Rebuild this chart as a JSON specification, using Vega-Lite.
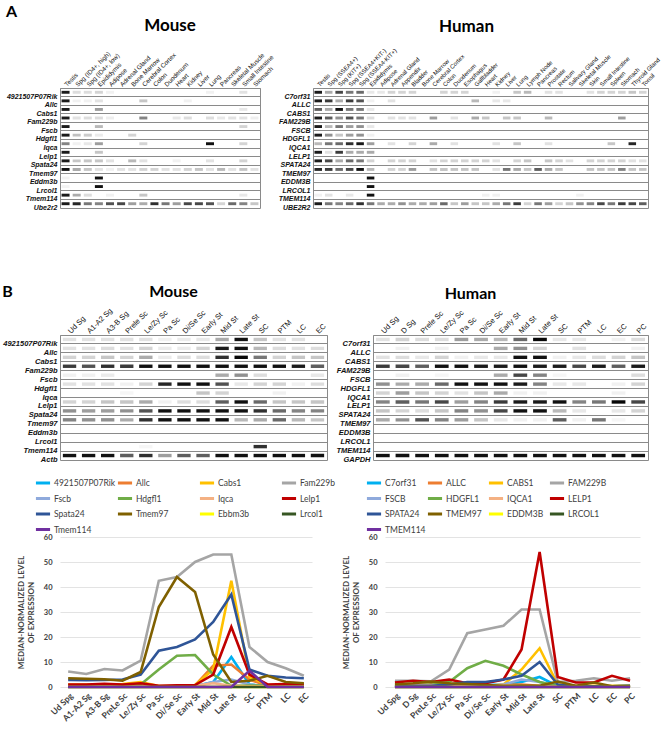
{
"$schema":"https://vega.github.io/schema/vega-lite/v6.json",
"background":"white",
"padding":{"left":2,"top":3,"right":0,"bottom":0},
"config":{"view":{"stroke":null},"font":"Liberation Sans"},
"datasets":{
"mA":[
{"r":"4921507P07Rik","c":"Testis","v":0.9},{"r":"4921507P07Rik","c":"Spg (ID4+, high)","v":0.12},{"r":"4921507P07Rik","c":"Spg (ID4+, low)","v":0.12},{"r":"4921507P07Rik","c":"Epididymis","v":0.15},{"r":"4921507P07Rik","c":"Adipose","v":0.05},{"r":"4921507P07Rik","c":"Lung","v":0.05},{"r":"4921507P07Rik","c":"Small Intestine","v":0.1},
{"r":"Allc","c":"Testis","v":0.9},{"r":"Allc","c":"Spg (ID4+, high)","v":0.05},{"r":"Allc","c":"Spg (ID4+, low)","v":0.05},{"r":"Allc","c":"Epididymis","v":0.1},{"r":"Allc","c":"Cerebral Cortex","v":0.2},{"r":"Allc","c":"Kidney","v":0.05},
{"r":"Cabs1","c":"Testis","v":0.9},{"r":"Cabs1","c":"Epididymis","v":0.35},{"r":"Cabs1","c":"Small Intestine","v":0.08},
{"r":"Fam229b","c":"Testis","v":0.9},{"r":"Fam229b","c":"Spg (ID4+, high)","v":0.1},{"r":"Fam229b","c":"Spg (ID4+, low)","v":0.12},{"r":"Fam229b","c":"Epididymis","v":0.12},{"r":"Fam229b","c":"Adipose","v":0.06},{"r":"Fam229b","c":"Cerebral Cortex","v":0.45},{"r":"Fam229b","c":"Heart","v":0.08},{"r":"Fam229b","c":"Kidney","v":0.12},{"r":"Fam229b","c":"Lung","v":0.12},{"r":"Fam229b","c":"Pancreas","v":0.08},{"r":"Fam229b","c":"Skeletal Muscle","v":0.1},{"r":"Fam229b","c":"Small Intestine","v":0.1},{"r":"Fam229b","c":"Stomach","v":0.06},
{"r":"Fscb","c":"Testis","v":0.9},{"r":"Fscb","c":"Epididymis","v":0.25},{"r":"Fscb","c":"Small Intestine","v":0.15},
{"r":"Hdgfl1","c":"Testis","v":0.9},{"r":"Hdgfl1","c":"Spg (ID4+, high)","v":0.22},{"r":"Hdgfl1","c":"Spg (ID4+, low)","v":0.18},{"r":"Hdgfl1","c":"Epididymis","v":0.07},{"r":"Hdgfl1","c":"Bone Marrow","v":0.15},
{"r":"Iqca","c":"Testis","v":0.45},{"r":"Iqca","c":"Spg (ID4+, high)","v":0.05},{"r":"Iqca","c":"Spg (ID4+, low)","v":0.08},{"r":"Iqca","c":"Epididymis","v":0.35},{"r":"Iqca","c":"Cerebral Cortex","v":0.15},{"r":"Iqca","c":"Lung","v":0.95},{"r":"Iqca","c":"Small Intestine","v":0.15},
{"r":"Lelp1","c":"Testis","v":0.9},{"r":"Lelp1","c":"Epididymis","v":0.2},
{"r":"Spata24","c":"Testis","v":0.9},{"r":"Spata24","c":"Spg (ID4+, high)","v":0.2},{"r":"Spata24","c":"Spg (ID4+, low)","v":0.2},{"r":"Spata24","c":"Epididymis","v":0.2},{"r":"Spata24","c":"Adipose","v":0.1},{"r":"Spata24","c":"Bone Marrow","v":0.25},{"r":"Spata24","c":"Cerebral Cortex","v":0.1},{"r":"Spata24","c":"Heart","v":0.05},{"r":"Spata24","c":"Lung","v":0.1},{"r":"Spata24","c":"Small Intestine","v":0.15},
{"r":"Tmem97","c":"Testis","v":0.95},{"r":"Tmem97","c":"Spg (ID4+, high)","v":0.3},{"r":"Tmem97","c":"Spg (ID4+, low)","v":0.2},{"r":"Tmem97","c":"Epididymis","v":0.1},{"r":"Tmem97","c":"Adipose","v":0.05},{"r":"Tmem97","c":"Adrenal Gland","v":0.1},{"r":"Tmem97","c":"Bone Marrow","v":0.1},{"r":"Tmem97","c":"Cerebral Cortex","v":0.15},{"r":"Tmem97","c":"Colon","v":0.15},{"r":"Tmem97","c":"Duodenum","v":0.1},{"r":"Tmem97","c":"Heart","v":0.1},{"r":"Tmem97","c":"Kidney","v":0.15},{"r":"Tmem97","c":"Liver","v":0.2},{"r":"Tmem97","c":"Lung","v":0.1},{"r":"Tmem97","c":"Pancreas","v":0.25},{"r":"Tmem97","c":"Skeletal Muscle","v":0.1},{"r":"Tmem97","c":"Small Intestine","v":0.2},{"r":"Tmem97","c":"Stomach","v":0.1},
{"r":"Eddm3b","c":"Testis","v":0.04},{"r":"Eddm3b","c":"Epididymis","v":0.95},
{"r":"Lrcol1","c":"Testis","v":0.04},{"r":"Lrcol1","c":"Epididymis","v":0.95},
{"r":"Tmem114","c":"Testis","v":0.9},{"r":"Tmem114","c":"Spg (ID4+, high)","v":0.3},{"r":"Tmem114","c":"Spg (ID4+, low)","v":0.12},{"r":"Tmem114","c":"Adipose","v":0.05},{"r":"Tmem114","c":"Cerebral Cortex","v":0.2},{"r":"Tmem114","c":"Small Intestine","v":0.08},
{"r":"Ube2r2","c":"Testis","v":0.9},{"r":"Ube2r2","c":"Spg (ID4+, high)","v":0.85},{"r":"Ube2r2","c":"Spg (ID4+, low)","v":0.5},{"r":"Ube2r2","c":"Epididymis","v":0.45},{"r":"Ube2r2","c":"Adipose","v":0.65},{"r":"Ube2r2","c":"Adrenal Gland","v":0.7},{"r":"Ube2r2","c":"Bone Marrow","v":0.35},{"r":"Ube2r2","c":"Cerebral Cortex","v":0.3},{"r":"Ube2r2","c":"Colon","v":0.8},{"r":"Ube2r2","c":"Duodenum","v":0.5},{"r":"Ube2r2","c":"Heart","v":0.35},{"r":"Ube2r2","c":"Kidney","v":0.7},{"r":"Ube2r2","c":"Liver","v":0.7},{"r":"Ube2r2","c":"Lung","v":0.65},{"r":"Ube2r2","c":"Pancreas","v":0.15},{"r":"Ube2r2","c":"Skeletal Muscle","v":0.55},{"r":"Ube2r2","c":"Small Intestine","v":0.45},{"r":"Ube2r2","c":"Stomach","v":0.2}
],
"hA":[
{"r":"C7orf31","c":"Testis","v":0.9},{"r":"C7orf31","c":"Spg (SSEA4+)","v":0.3},{"r":"C7orf31","c":"Spg (KIT+)","v":0.7},{"r":"C7orf31","c":"Spg (SSEA4+KIT-)","v":0.5},{"r":"C7orf31","c":"Spg (SSEA4-KIT+)","v":0.55},{"r":"C7orf31","c":"Epididymis","v":0.08},{"r":"C7orf31","c":"Adipose","v":0.08},{"r":"C7orf31","c":"Adrenal Gland","v":0.15},{"r":"C7orf31","c":"Appendix","v":0.15},{"r":"C7orf31","c":"Bladder","v":0.15},{"r":"C7orf31","c":"Colon","v":0.15},{"r":"C7orf31","c":"Duodenum","v":0.15},{"r":"C7orf31","c":"Esophagus","v":0.15},{"r":"C7orf31","c":"Kidney","v":0.05},{"r":"C7orf31","c":"Lung","v":0.2},{"r":"C7orf31","c":"Lymph Node","v":0.25},{"r":"C7orf31","c":"Prostate","v":0.1},{"r":"C7orf31","c":"Rectum","v":0.1},{"r":"C7orf31","c":"Skin","v":0.1},{"r":"C7orf31","c":"Small Intestine","v":0.15},{"r":"C7orf31","c":"Spleen","v":0.15},{"r":"C7orf31","c":"Stomach","v":0.15},{"r":"C7orf31","c":"Thyroid Gland","v":0.2},{"r":"C7orf31","c":"Tonsil","v":0.15},
{"r":"ALLC","c":"Testis","v":0.9},{"r":"ALLC","c":"Spg (SSEA4+)","v":0.75},{"r":"ALLC","c":"Spg (KIT+)","v":0.3},{"r":"ALLC","c":"Spg (SSEA4+KIT-)","v":0.75},{"r":"ALLC","c":"Spg (SSEA4-KIT+)","v":0.65},{"r":"ALLC","c":"Epididymis","v":0.05},{"r":"ALLC","c":"Adrenal Gland","v":0.1},{"r":"ALLC","c":"Gallbladder","v":0.25},{"r":"ALLC","c":"Kidney","v":0.08},{"r":"ALLC","c":"Liver","v":0.08},
{"r":"CABS1","c":"Testis","v":0.6},{"r":"CABS1","c":"Spg (SSEA4+)","v":0.3},{"r":"CABS1","c":"Spg (KIT+)","v":0.95},{"r":"CABS1","c":"Spg (SSEA4+KIT-)","v":0.5},{"r":"CABS1","c":"Spg (SSEA4-KIT+)","v":0.5},{"r":"CABS1","c":"Epididymis","v":0.08},
{"r":"FAM229B","c":"Testis","v":0.9},{"r":"FAM229B","c":"Spg (SSEA4+)","v":0.6},{"r":"FAM229B","c":"Spg (KIT+)","v":0.4},{"r":"FAM229B","c":"Spg (SSEA4+KIT-)","v":0.65},{"r":"FAM229B","c":"Spg (SSEA4-KIT+)","v":0.5},{"r":"FAM229B","c":"Epididymis","v":0.12},{"r":"FAM229B","c":"Adrenal Gland","v":0.1},{"r":"FAM229B","c":"Appendix","v":0.1},{"r":"FAM229B","c":"Bladder","v":0.1},{"r":"FAM229B","c":"Cerebral Cortex","v":0.35},{"r":"FAM229B","c":"Duodenum","v":0.1},{"r":"FAM229B","c":"Gallbladder","v":0.3},{"r":"FAM229B","c":"Heart","v":0.2},{"r":"FAM229B","c":"Liver","v":0.2},{"r":"FAM229B","c":"Lung","v":0.2},{"r":"FAM229B","c":"Prostate","v":0.25},{"r":"FAM229B","c":"Stomach","v":0.35},
{"r":"FSCB","c":"Testis","v":0.9},{"r":"FSCB","c":"Spg (SSEA4+)","v":0.25},{"r":"FSCB","c":"Spg (KIT+)","v":0.5},{"r":"FSCB","c":"Spg (SSEA4+KIT-)","v":0.35},{"r":"FSCB","c":"Spg (SSEA4-KIT+)","v":0.4},{"r":"FSCB","c":"Epididymis","v":0.08},
{"r":"HDGFL1","c":"Testis","v":0.9},{"r":"HDGFL1","c":"Spg (SSEA4+)","v":0.4},{"r":"HDGFL1","c":"Spg (KIT+)","v":0.2},{"r":"HDGFL1","c":"Spg (SSEA4+KIT-)","v":0.35},{"r":"HDGFL1","c":"Spg (SSEA4-KIT+)","v":0.4},{"r":"HDGFL1","c":"Epididymis","v":0.05},
{"r":"IQCA1","c":"Testis","v":0.25},{"r":"IQCA1","c":"Spg (SSEA4+)","v":0.5},{"r":"IQCA1","c":"Spg (KIT+)","v":0.55},{"r":"IQCA1","c":"Spg (SSEA4+KIT-)","v":0.8},{"r":"IQCA1","c":"Spg (SSEA4-KIT+)","v":0.92},{"r":"IQCA1","c":"Epididymis","v":0.35},{"r":"IQCA1","c":"Adrenal Gland","v":0.1},{"r":"IQCA1","c":"Bladder","v":0.15},{"r":"IQCA1","c":"Cerebral Cortex","v":0.3},{"r":"IQCA1","c":"Duodenum","v":0.1},{"r":"IQCA1","c":"Kidney","v":0.1},{"r":"IQCA1","c":"Lung","v":0.2},{"r":"IQCA1","c":"Prostate","v":0.1},{"r":"IQCA1","c":"Spleen","v":0.2},{"r":"IQCA1","c":"Thyroid Gland","v":0.85},
{"r":"LELP1","c":"Testis","v":0.9},{"r":"LELP1","c":"Spg (SSEA4+)","v":0.1},{"r":"LELP1","c":"Spg (KIT+)","v":0.75},{"r":"LELP1","c":"Spg (SSEA4+KIT-)","v":0.3},{"r":"LELP1","c":"Spg (SSEA4-KIT+)","v":0.3},{"r":"LELP1","c":"Epididymis","v":0.3},
{"r":"SPATA24","c":"Testis","v":0.9},{"r":"SPATA24","c":"Spg (SSEA4+)","v":0.7},{"r":"SPATA24","c":"Spg (KIT+)","v":0.3},{"r":"SPATA24","c":"Spg (SSEA4+KIT-)","v":0.55},{"r":"SPATA24","c":"Spg (SSEA4-KIT+)","v":0.5},{"r":"SPATA24","c":"Epididymis","v":0.15},{"r":"SPATA24","c":"Adrenal Gland","v":0.15},{"r":"SPATA24","c":"Appendix","v":0.15},{"r":"SPATA24","c":"Bladder","v":0.15},{"r":"SPATA24","c":"Cerebral Cortex","v":0.1},{"r":"SPATA24","c":"Colon","v":0.15},{"r":"SPATA24","c":"Duodenum","v":0.15},{"r":"SPATA24","c":"Esophagus","v":0.15},{"r":"SPATA24","c":"Gallbladder","v":0.15},{"r":"SPATA24","c":"Heart","v":0.15},{"r":"SPATA24","c":"Kidney","v":0.1},{"r":"SPATA24","c":"Lung","v":0.15},{"r":"SPATA24","c":"Lymph Node","v":0.2},{"r":"SPATA24","c":"Prostate","v":0.2},{"r":"SPATA24","c":"Rectum","v":0.15},{"r":"SPATA24","c":"Salivary Gland","v":0.1},{"r":"SPATA24","c":"Skin","v":0.15},{"r":"SPATA24","c":"Small Intestine","v":0.15},{"r":"SPATA24","c":"Spleen","v":0.15},{"r":"SPATA24","c":"Stomach","v":0.15},{"r":"SPATA24","c":"Thyroid Gland","v":0.1},{"r":"SPATA24","c":"Tonsil","v":0.1},
{"r":"TMEM97","c":"Testis","v":0.85},{"r":"TMEM97","c":"Spg (SSEA4+)","v":0.75},{"r":"TMEM97","c":"Spg (KIT+)","v":0.55},{"r":"TMEM97","c":"Spg (SSEA4+KIT-)","v":0.7},{"r":"TMEM97","c":"Spg (SSEA4-KIT+)","v":0.95},{"r":"TMEM97","c":"Epididymis","v":0.25},{"r":"TMEM97","c":"Adrenal Gland","v":0.15},{"r":"TMEM97","c":"Appendix","v":0.15},{"r":"TMEM97","c":"Bladder","v":0.35},{"r":"TMEM97","c":"Cerebral Cortex","v":0.2},{"r":"TMEM97","c":"Colon","v":0.2},{"r":"TMEM97","c":"Duodenum","v":0.2},{"r":"TMEM97","c":"Esophagus","v":0.2},{"r":"TMEM97","c":"Gallbladder","v":0.2},{"r":"TMEM97","c":"Kidney","v":0.1},{"r":"TMEM97","c":"Liver","v":0.5},{"r":"TMEM97","c":"Lung","v":0.3},{"r":"TMEM97","c":"Lymph Node","v":0.2},{"r":"TMEM97","c":"Pancreas","v":0.6},{"r":"TMEM97","c":"Prostate","v":0.3},{"r":"TMEM97","c":"Rectum","v":0.2},{"r":"TMEM97","c":"Skin","v":0.2},{"r":"TMEM97","c":"Small Intestine","v":0.2},{"r":"TMEM97","c":"Spleen","v":0.2},{"r":"TMEM97","c":"Stomach","v":0.45},{"r":"TMEM97","c":"Thyroid Gland","v":0.2},{"r":"TMEM97","c":"Tonsil","v":0.2},
{"r":"EDDM3B","c":"Epididymis","v":0.95},
{"r":"LRCOL1","c":"Epididymis","v":0.95},
{"r":"TMEM114","c":"Testis","v":0.05},{"r":"TMEM114","c":"Spg (SSEA4+)","v":0.1},{"r":"TMEM114","c":"Spg (SSEA4+KIT-)","v":0.08},{"r":"TMEM114","c":"Epididymis","v":0.95},{"r":"TMEM114","c":"Heart","v":0.05},{"r":"TMEM114","c":"Kidney","v":0.05},{"r":"TMEM114","c":"Skeletal Muscle","v":0.05},
{"r":"UBE2R2","c":"Testis","v":0.9},{"r":"UBE2R2","c":"Spg (SSEA4+)","v":0.5},{"r":"UBE2R2","c":"Spg (KIT+)","v":0.45},{"r":"UBE2R2","c":"Spg (SSEA4+KIT-)","v":0.55},{"r":"UBE2R2","c":"Spg (SSEA4-KIT+)","v":0.8},{"r":"UBE2R2","c":"Epididymis","v":0.5},{"r":"UBE2R2","c":"Adipose","v":0.3},{"r":"UBE2R2","c":"Adrenal Gland","v":0.3},{"r":"UBE2R2","c":"Appendix","v":0.4},{"r":"UBE2R2","c":"Bladder","v":0.3},{"r":"UBE2R2","c":"Bone Marrow","v":0.3},{"r":"UBE2R2","c":"Cerebral Cortex","v":0.35},{"r":"UBE2R2","c":"Colon","v":0.55},{"r":"UBE2R2","c":"Duodenum","v":0.2},{"r":"UBE2R2","c":"Esophagus","v":0.35},{"r":"UBE2R2","c":"Gallbladder","v":0.2},{"r":"UBE2R2","c":"Heart","v":0.2},{"r":"UBE2R2","c":"Kidney","v":0.3},{"r":"UBE2R2","c":"Liver","v":0.5},{"r":"UBE2R2","c":"Lung","v":0.75},{"r":"UBE2R2","c":"Lymph Node","v":0.15},{"r":"UBE2R2","c":"Pancreas","v":0.5},{"r":"UBE2R2","c":"Prostate","v":0.35},{"r":"UBE2R2","c":"Rectum","v":0.15},{"r":"UBE2R2","c":"Salivary Gland","v":0.2},{"r":"UBE2R2","c":"Skeletal Muscle","v":0.4},{"r":"UBE2R2","c":"Skin","v":0.45},{"r":"UBE2R2","c":"Small Intestine","v":0.7},{"r":"UBE2R2","c":"Spleen","v":0.5},{"r":"UBE2R2","c":"Stomach","v":0.75},{"r":"UBE2R2","c":"Thyroid Gland","v":0.7},{"r":"UBE2R2","c":"Tonsil","v":0.6}
],
"mB":[
{"r":"4921507P07Rik","c":"Ud Sg","v":0.1},{"r":"4921507P07Rik","c":"A1-A2 Sg","v":0.1},{"r":"4921507P07Rik","c":"A3-B Sg","v":0.1},{"r":"4921507P07Rik","c":"Prele Sc","v":0.1},{"r":"4921507P07Rik","c":"Le/Zy Sc","v":0.1},{"r":"4921507P07Rik","c":"Pa Sc","v":0.05},{"r":"4921507P07Rik","c":"Di/Se Sc","v":0.07},{"r":"4921507P07Rik","c":"Early St","v":0.08},{"r":"4921507P07Rik","c":"Mid St","v":0.3},{"r":"4921507P07Rik","c":"Late St","v":0.95},{"r":"4921507P07Rik","c":"SC","v":0.2},{"r":"4921507P07Rik","c":"PTM","v":0.1},{"r":"4921507P07Rik","c":"LC","v":0.1},
{"r":"Allc","c":"Ud Sg","v":0.1},{"r":"Allc","c":"A1-A2 Sg","v":0.1},{"r":"Allc","c":"A3-B Sg","v":0.12},{"r":"Allc","c":"Prele Sc","v":0.1},{"r":"Allc","c":"Le/Zy Sc","v":0.15},{"r":"Allc","c":"Pa Sc","v":0.07},{"r":"Allc","c":"Di/Se Sc","v":0.07},{"r":"Allc","c":"Early St","v":0.15},{"r":"Allc","c":"Mid St","v":0.9},{"r":"Allc","c":"Late St","v":0.95},{"r":"Allc","c":"SC","v":0.25},{"r":"Allc","c":"PTM","v":0.12},{"r":"Allc","c":"LC","v":0.1},{"r":"Allc","c":"EC","v":0.12},
{"r":"Cabs1","c":"Ud Sg","v":0.15},{"r":"Cabs1","c":"A1-A2 Sg","v":0.15},{"r":"Cabs1","c":"A3-B Sg","v":0.2},{"r":"Cabs1","c":"Prele Sc","v":0.15},{"r":"Cabs1","c":"Le/Zy Sc","v":0.3},{"r":"Cabs1","c":"Pa Sc","v":0.07},{"r":"Cabs1","c":"Di/Se Sc","v":0.12},{"r":"Cabs1","c":"Early St","v":0.12},{"r":"Cabs1","c":"Mid St","v":0.8},{"r":"Cabs1","c":"Late St","v":0.98},{"r":"Cabs1","c":"SC","v":0.5},{"r":"Cabs1","c":"PTM","v":0.15},{"r":"Cabs1","c":"LC","v":0.2},{"r":"Cabs1","c":"EC","v":0.2},
{"r":"Fam229b","c":"Ud Sg","v":0.75},{"r":"Fam229b","c":"A1-A2 Sg","v":0.65},{"r":"Fam229b","c":"A3-B Sg","v":0.8},{"r":"Fam229b","c":"Prele Sc","v":0.75},{"r":"Fam229b","c":"Le/Zy Sc","v":0.95},{"r":"Fam229b","c":"Pa Sc","v":0.95},{"r":"Fam229b","c":"Di/Se Sc","v":0.95},{"r":"Fam229b","c":"Early St","v":0.95},{"r":"Fam229b","c":"Mid St","v":0.95},{"r":"Fam229b","c":"Late St","v":0.95},{"r":"Fam229b","c":"SC","v":0.95},{"r":"Fam229b","c":"PTM","v":0.95},{"r":"Fam229b","c":"LC","v":0.9},{"r":"Fam229b","c":"EC","v":0.6},
{"r":"Fscb","c":"Ud Sg","v":0.05},{"r":"Fscb","c":"A1-A2 Sg","v":0.05},{"r":"Fscb","c":"A3-B Sg","v":0.07},{"r":"Fscb","c":"Mid St","v":0.3},{"r":"Fscb","c":"Late St","v":0.4},{"r":"Fscb","c":"SC","v":0.12},{"r":"Fscb","c":"EC","v":0.08},
{"r":"Hdgfl1","c":"Ud Sg","v":0.1},{"r":"Hdgfl1","c":"A1-A2 Sg","v":0.1},{"r":"Hdgfl1","c":"A3-B Sg","v":0.1},{"r":"Hdgfl1","c":"Prele Sc","v":0.05},{"r":"Hdgfl1","c":"Le/Zy Sc","v":0.15},{"r":"Hdgfl1","c":"Pa Sc","v":0.85},{"r":"Hdgfl1","c":"Di/Se Sc","v":0.95},{"r":"Hdgfl1","c":"Early St","v":0.95},{"r":"Hdgfl1","c":"Mid St","v":0.65},{"r":"Hdgfl1","c":"Late St","v":0.08},{"r":"Hdgfl1","c":"SC","v":0.15},{"r":"Hdgfl1","c":"PTM","v":0.15},{"r":"Hdgfl1","c":"LC","v":0.05},{"r":"Hdgfl1","c":"EC","v":0.12},
{"r":"Iqca","c":"Prele Sc","v":0.03},{"r":"Iqca","c":"Early St","v":0.2},{"r":"Iqca","c":"Mid St","v":0.15},{"r":"Iqca","c":"PTM","v":0.05},
{"r":"Lelp1","c":"Ud Sg","v":0.15},{"r":"Lelp1","c":"A1-A2 Sg","v":0.15},{"r":"Lelp1","c":"A3-B Sg","v":0.2},{"r":"Lelp1","c":"Prele Sc","v":0.2},{"r":"Lelp1","c":"Le/Zy Sc","v":0.3},{"r":"Lelp1","c":"Pa Sc","v":0.05},{"r":"Lelp1","c":"Di/Se Sc","v":0.12},{"r":"Lelp1","c":"Early St","v":0.12},{"r":"Lelp1","c":"Mid St","v":0.6},{"r":"Lelp1","c":"Late St","v":0.95},{"r":"Lelp1","c":"SC","v":0.55},{"r":"Lelp1","c":"PTM","v":0.2},{"r":"Lelp1","c":"LC","v":0.2},{"r":"Lelp1","c":"EC","v":0.2},
{"r":"Spata24","c":"Ud Sg","v":0.4},{"r":"Spata24","c":"A1-A2 Sg","v":0.35},{"r":"Spata24","c":"A3-B Sg","v":0.35},{"r":"Spata24","c":"Prele Sc","v":0.4},{"r":"Spata24","c":"Le/Zy Sc","v":0.65},{"r":"Spata24","c":"Pa Sc","v":0.95},{"r":"Spata24","c":"Di/Se Sc","v":0.95},{"r":"Spata24","c":"Early St","v":0.95},{"r":"Spata24","c":"Mid St","v":0.95},{"r":"Spata24","c":"Late St","v":0.95},{"r":"Spata24","c":"SC","v":0.8},{"r":"Spata24","c":"PTM","v":0.55},{"r":"Spata24","c":"LC","v":0.45},{"r":"Spata24","c":"EC","v":0.45},
{"r":"Tmem97","c":"Ud Sg","v":0.45},{"r":"Tmem97","c":"A1-A2 Sg","v":0.4},{"r":"Tmem97","c":"A3-B Sg","v":0.4},{"r":"Tmem97","c":"Prele Sc","v":0.3},{"r":"Tmem97","c":"Le/Zy Sc","v":0.8},{"r":"Tmem97","c":"Pa Sc","v":0.95},{"r":"Tmem97","c":"Di/Se Sc","v":0.95},{"r":"Tmem97","c":"Early St","v":0.95},{"r":"Tmem97","c":"Mid St","v":0.95},{"r":"Tmem97","c":"Late St","v":0.25},{"r":"Tmem97","c":"SC","v":0.3},{"r":"Tmem97","c":"PTM","v":0.55},{"r":"Tmem97","c":"LC","v":0.25},{"r":"Tmem97","c":"EC","v":0.2},
{"r":"Tmem114","c":"Le/Zy Sc","v":0.03},{"r":"Tmem114","c":"SC","v":0.8},
{"r":"Actb","c":"Ud Sg","v":0.95},{"r":"Actb","c":"A1-A2 Sg","v":0.95},{"r":"Actb","c":"A3-B Sg","v":0.95},{"r":"Actb","c":"Prele Sc","v":0.6},{"r":"Actb","c":"Le/Zy Sc","v":0.8},{"r":"Actb","c":"Pa Sc","v":0.35},{"r":"Actb","c":"Di/Se Sc","v":0.6},{"r":"Actb","c":"Early St","v":0.6},{"r":"Actb","c":"Mid St","v":0.95},{"r":"Actb","c":"Late St","v":0.95},{"r":"Actb","c":"SC","v":0.95},{"r":"Actb","c":"PTM","v":0.95},{"r":"Actb","c":"LC","v":0.95},{"r":"Actb","c":"EC","v":0.95}
],
"hB":[
{"r":"C7orf31","c":"Ud Sg","v":0.1},{"r":"C7orf31","c":"D Sg","v":0.15},{"r":"C7orf31","c":"Prele Sc","v":0.12},{"r":"C7orf31","c":"Le/Zy Sc","v":0.12},{"r":"C7orf31","c":"Pa Sc","v":0.35},{"r":"C7orf31","c":"Di/Se Sc","v":0.3},{"r":"C7orf31","c":"Early St","v":0.25},{"r":"C7orf31","c":"Mid St","v":0.55},{"r":"C7orf31","c":"Late St","v":0.98},{"r":"C7orf31","c":"SC","v":0.08},{"r":"C7orf31","c":"PTM","v":0.08},{"r":"C7orf31","c":"EC","v":0.05},{"r":"C7orf31","c":"PC","v":0.12},
{"r":"ALLC","c":"D Sg","v":0.05},{"r":"ALLC","c":"Le/Zy Sc","v":0.05},{"r":"ALLC","c":"Early St","v":0.3},{"r":"ALLC","c":"Mid St","v":0.4},{"r":"ALLC","c":"Late St","v":0.15},{"r":"ALLC","c":"PTM","v":0.1},{"r":"ALLC","c":"PC","v":0.05},
{"r":"CABS1","c":"Ud Sg","v":0.1},{"r":"CABS1","c":"D Sg","v":0.12},{"r":"CABS1","c":"Prele Sc","v":0.08},{"r":"CABS1","c":"Le/Zy Sc","v":0.15},{"r":"CABS1","c":"Pa Sc","v":0.05},{"r":"CABS1","c":"Di/Se Sc","v":0.08},{"r":"CABS1","c":"Early St","v":0.08},{"r":"CABS1","c":"Mid St","v":0.95},{"r":"CABS1","c":"Late St","v":0.95},{"r":"CABS1","c":"SC","v":0.05},{"r":"CABS1","c":"PTM","v":0.08},{"r":"CABS1","c":"LC","v":0.12},{"r":"CABS1","c":"EC","v":0.15},{"r":"CABS1","c":"PC","v":0.2},
{"r":"FAM229B","c":"Ud Sg","v":0.75},{"r":"FAM229B","c":"D Sg","v":0.7},{"r":"FAM229B","c":"Prele Sc","v":0.6},{"r":"FAM229B","c":"Le/Zy Sc","v":0.95},{"r":"FAM229B","c":"Pa Sc","v":0.95},{"r":"FAM229B","c":"Di/Se Sc","v":0.9},{"r":"FAM229B","c":"Early St","v":0.9},{"r":"FAM229B","c":"Mid St","v":0.95},{"r":"FAM229B","c":"Late St","v":0.9},{"r":"FAM229B","c":"SC","v":0.9},{"r":"FAM229B","c":"PTM","v":0.7},{"r":"FAM229B","c":"LC","v":0.9},{"r":"FAM229B","c":"EC","v":0.6},{"r":"FAM229B","c":"PC","v":0.9},
{"r":"FSCB","c":"D Sg","v":0.05},{"r":"FSCB","c":"Le/Zy Sc","v":0.03},{"r":"FSCB","c":"Early St","v":0.3},{"r":"FSCB","c":"Mid St","v":0.7},{"r":"FSCB","c":"Late St","v":0.45},{"r":"FSCB","c":"SC","v":0.03},{"r":"FSCB","c":"PC","v":0.12},
{"r":"HDGFL1","c":"Ud Sg","v":0.4},{"r":"HDGFL1","c":"D Sg","v":0.3},{"r":"HDGFL1","c":"Prele Sc","v":0.3},{"r":"HDGFL1","c":"Le/Zy Sc","v":0.55},{"r":"HDGFL1","c":"Pa Sc","v":0.95},{"r":"HDGFL1","c":"Di/Se Sc","v":0.95},{"r":"HDGFL1","c":"Early St","v":0.95},{"r":"HDGFL1","c":"Mid St","v":0.9},{"r":"HDGFL1","c":"Late St","v":0.45},{"r":"HDGFL1","c":"SC","v":0.08},{"r":"HDGFL1","c":"PTM","v":0.08},{"r":"HDGFL1","c":"EC","v":0.05},{"r":"HDGFL1","c":"PC","v":0.15},
{"r":"IQCA1","c":"Ud Sg","v":0.15},{"r":"IQCA1","c":"D Sg","v":0.35},{"r":"IQCA1","c":"Prele Sc","v":0.2},{"r":"IQCA1","c":"Le/Zy Sc","v":0.15},{"r":"IQCA1","c":"Pa Sc","v":0.1},{"r":"IQCA1","c":"Di/Se Sc","v":0.2},{"r":"IQCA1","c":"Early St","v":0.3},{"r":"IQCA1","c":"Mid St","v":0.05},{"r":"IQCA1","c":"Late St","v":0.05},{"r":"IQCA1","c":"EC","v":0.05},
{"r":"LELP1","c":"Ud Sg","v":0.45},{"r":"LELP1","c":"D Sg","v":0.6},{"r":"LELP1","c":"Prele Sc","v":0.5},{"r":"LELP1","c":"Le/Zy Sc","v":0.7},{"r":"LELP1","c":"Pa Sc","v":0.35},{"r":"LELP1","c":"Di/Se Sc","v":0.45},{"r":"LELP1","c":"Early St","v":0.75},{"r":"LELP1","c":"Mid St","v":0.9},{"r":"LELP1","c":"Late St","v":0.9},{"r":"LELP1","c":"SC","v":0.95},{"r":"LELP1","c":"PTM","v":0.45},{"r":"LELP1","c":"LC","v":0.5},{"r":"LELP1","c":"EC","v":0.98},{"r":"LELP1","c":"PC","v":0.7},
{"r":"SPATA24","c":"Ud Sg","v":0.2},{"r":"SPATA24","c":"D Sg","v":0.15},{"r":"SPATA24","c":"Prele Sc","v":0.12},{"r":"SPATA24","c":"Le/Zy Sc","v":0.2},{"r":"SPATA24","c":"Pa Sc","v":0.45},{"r":"SPATA24","c":"Di/Se Sc","v":0.4},{"r":"SPATA24","c":"Early St","v":0.7},{"r":"SPATA24","c":"Mid St","v":0.95},{"r":"SPATA24","c":"Late St","v":0.95},{"r":"SPATA24","c":"SC","v":0.25},{"r":"SPATA24","c":"PTM","v":0.08},{"r":"SPATA24","c":"EC","v":0.08},{"r":"SPATA24","c":"PC","v":0.15},
{"r":"TMEM97","c":"Ud Sg","v":0.3},{"r":"TMEM97","c":"D Sg","v":0.4},{"r":"TMEM97","c":"Prele Sc","v":0.65},{"r":"TMEM97","c":"Le/Zy Sc","v":0.45},{"r":"TMEM97","c":"Pa Sc","v":0.35},{"r":"TMEM97","c":"Di/Se Sc","v":0.2},{"r":"TMEM97","c":"Early St","v":0.08},{"r":"TMEM97","c":"Mid St","v":0.05},{"r":"TMEM97","c":"Late St","v":0.05},{"r":"TMEM97","c":"SC","v":0.6},{"r":"TMEM97","c":"PTM","v":0.05},{"r":"TMEM97","c":"LC","v":0.5},{"r":"TMEM97","c":"EC","v":0.03},
{"r":"GAPDH","c":"Ud Sg","v":0.95},{"r":"GAPDH","c":"D Sg","v":0.95},{"r":"GAPDH","c":"Prele Sc","v":0.95},{"r":"GAPDH","c":"Le/Zy Sc","v":0.95},{"r":"GAPDH","c":"Pa Sc","v":0.95},{"r":"GAPDH","c":"Di/Se Sc","v":0.95},{"r":"GAPDH","c":"Early St","v":0.95},{"r":"GAPDH","c":"Mid St","v":0.95},{"r":"GAPDH","c":"Late St","v":0.95},{"r":"GAPDH","c":"SC","v":0.95},{"r":"GAPDH","c":"PTM","v":0.95},{"r":"GAPDH","c":"LC","v":0.95},{"r":"GAPDH","c":"EC","v":0.95},{"r":"GAPDH","c":"PC","v":0.95}
],
"mL":[
{"s":"4921507P07Rik","st":"Ud Spg","v":0.3},{"s":"4921507P07Rik","st":"A1-A2 Sg","v":0.3},{"s":"4921507P07Rik","st":"A3-B Sg","v":0.3},{"s":"4921507P07Rik","st":"PreLe Sc","v":0.3},{"s":"4921507P07Rik","st":"Le/Zy Sc","v":0.3},{"s":"4921507P07Rik","st":"Pa Sc","v":0.2},{"s":"4921507P07Rik","st":"Di/Se Sc","v":0.2},{"s":"4921507P07Rik","st":"Early St","v":0.3},{"s":"4921507P07Rik","st":"Mid St","v":2},{"s":"4921507P07Rik","st":"Late St","v":12},{"s":"4921507P07Rik","st":"SC","v":1},{"s":"4921507P07Rik","st":"PTM","v":0.3},{"s":"4921507P07Rik","st":"LC","v":0.3},{"s":"4921507P07Rik","st":"EC","v":0.3},
{"s":"Allc","st":"Ud Spg","v":0.5},{"s":"Allc","st":"A1-A2 Sg","v":0.5},{"s":"Allc","st":"A3-B Sg","v":0.5},{"s":"Allc","st":"PreLe Sc","v":0.5},{"s":"Allc","st":"Le/Zy Sc","v":0.6},{"s":"Allc","st":"Pa Sc","v":0.3},{"s":"Allc","st":"Di/Se Sc","v":0.3},{"s":"Allc","st":"Early St","v":0.6},{"s":"Allc","st":"Mid St","v":8.5},{"s":"Allc","st":"Late St","v":9},{"s":"Allc","st":"SC","v":3},{"s":"Allc","st":"PTM","v":0.5},{"s":"Allc","st":"LC","v":0.5},{"s":"Allc","st":"EC","v":0.5},
{"s":"Cabs1","st":"Ud Spg","v":1},{"s":"Cabs1","st":"A1-A2 Sg","v":1},{"s":"Cabs1","st":"A3-B Sg","v":1},{"s":"Cabs1","st":"PreLe Sc","v":1.2},{"s":"Cabs1","st":"Le/Zy Sc","v":2},{"s":"Cabs1","st":"Pa Sc","v":0.4},{"s":"Cabs1","st":"Di/Se Sc","v":0.5},{"s":"Cabs1","st":"Early St","v":0.8},{"s":"Cabs1","st":"Mid St","v":7},{"s":"Cabs1","st":"Late St","v":42.5},{"s":"Cabs1","st":"SC","v":4},{"s":"Cabs1","st":"PTM","v":0.8},{"s":"Cabs1","st":"LC","v":0.8},{"s":"Cabs1","st":"EC","v":0.8},
{"s":"Fam229b","st":"Ud Spg","v":6.2},{"s":"Fam229b","st":"A1-A2 Sg","v":5.2},{"s":"Fam229b","st":"A3-B Sg","v":7.2},{"s":"Fam229b","st":"PreLe Sc","v":6.6},{"s":"Fam229b","st":"Le/Zy Sc","v":10.5},{"s":"Fam229b","st":"Pa Sc","v":42.5},{"s":"Fam229b","st":"Di/Se Sc","v":44},{"s":"Fam229b","st":"Early St","v":50},{"s":"Fam229b","st":"Mid St","v":53},{"s":"Fam229b","st":"Late St","v":53},{"s":"Fam229b","st":"SC","v":16},{"s":"Fam229b","st":"PTM","v":10},{"s":"Fam229b","st":"LC","v":7.5},{"s":"Fam229b","st":"EC","v":4.5},
{"s":"Fscb","st":"Ud Spg","v":0.2},{"s":"Fscb","st":"A1-A2 Sg","v":0.2},{"s":"Fscb","st":"A3-B Sg","v":0.2},{"s":"Fscb","st":"PreLe Sc","v":0.2},{"s":"Fscb","st":"Le/Zy Sc","v":0.2},{"s":"Fscb","st":"Pa Sc","v":0.2},{"s":"Fscb","st":"Di/Se Sc","v":0.2},{"s":"Fscb","st":"Early St","v":0.3},{"s":"Fscb","st":"Mid St","v":2},{"s":"Fscb","st":"Late St","v":3},{"s":"Fscb","st":"SC","v":1},{"s":"Fscb","st":"PTM","v":0.2},{"s":"Fscb","st":"LC","v":0.2},{"s":"Fscb","st":"EC","v":0.2},
{"s":"Hdgfl1","st":"Ud Spg","v":0.6},{"s":"Hdgfl1","st":"A1-A2 Sg","v":0.6},{"s":"Hdgfl1","st":"A3-B Sg","v":0.6},{"s":"Hdgfl1","st":"PreLe Sc","v":0.5},{"s":"Hdgfl1","st":"Le/Zy Sc","v":1},{"s":"Hdgfl1","st":"Pa Sc","v":7},{"s":"Hdgfl1","st":"Di/Se Sc","v":12.5},{"s":"Hdgfl1","st":"Early St","v":12.8},{"s":"Hdgfl1","st":"Mid St","v":5},{"s":"Hdgfl1","st":"Late St","v":0.5},{"s":"Hdgfl1","st":"SC","v":0.6},{"s":"Hdgfl1","st":"PTM","v":0.6},{"s":"Hdgfl1","st":"LC","v":0.5},{"s":"Hdgfl1","st":"EC","v":0.6},
{"s":"Iqca","st":"Ud Spg","v":0.2},{"s":"Iqca","st":"A1-A2 Sg","v":0.2},{"s":"Iqca","st":"A3-B Sg","v":0.2},{"s":"Iqca","st":"PreLe Sc","v":0.2},{"s":"Iqca","st":"Le/Zy Sc","v":0.2},{"s":"Iqca","st":"Pa Sc","v":0.2},{"s":"Iqca","st":"Di/Se Sc","v":0.2},{"s":"Iqca","st":"Early St","v":0.5},{"s":"Iqca","st":"Mid St","v":1.5},{"s":"Iqca","st":"Late St","v":0.5},{"s":"Iqca","st":"SC","v":0.3},{"s":"Iqca","st":"PTM","v":0.3},{"s":"Iqca","st":"LC","v":0.2},{"s":"Iqca","st":"EC","v":0.2},
{"s":"Lelp1","st":"Ud Spg","v":1},{"s":"Lelp1","st":"A1-A2 Sg","v":1},{"s":"Lelp1","st":"A3-B Sg","v":1.3},{"s":"Lelp1","st":"PreLe Sc","v":1},{"s":"Lelp1","st":"Le/Zy Sc","v":1.5},{"s":"Lelp1","st":"Pa Sc","v":0.5},{"s":"Lelp1","st":"Di/Se Sc","v":0.7},{"s":"Lelp1","st":"Early St","v":0.8},{"s":"Lelp1","st":"Mid St","v":5},{"s":"Lelp1","st":"Late St","v":24},{"s":"Lelp1","st":"SC","v":5},{"s":"Lelp1","st":"PTM","v":1},{"s":"Lelp1","st":"LC","v":1.2},{"s":"Lelp1","st":"EC","v":1.2},
{"s":"Spata24","st":"Ud Spg","v":2.8},{"s":"Spata24","st":"A1-A2 Sg","v":2.7},{"s":"Spata24","st":"A3-B Sg","v":2.8},{"s":"Spata24","st":"PreLe Sc","v":3},{"s":"Spata24","st":"Le/Zy Sc","v":5},{"s":"Spata24","st":"Pa Sc","v":14.5},{"s":"Spata24","st":"Di/Se Sc","v":16},{"s":"Spata24","st":"Early St","v":19},{"s":"Spata24","st":"Mid St","v":26},{"s":"Spata24","st":"Late St","v":37},{"s":"Spata24","st":"SC","v":7},{"s":"Spata24","st":"PTM","v":4.5},{"s":"Spata24","st":"LC","v":3.8},{"s":"Spata24","st":"EC","v":3.5},
{"s":"Tmem97","st":"Ud Spg","v":3.5},{"s":"Tmem97","st":"A1-A2 Sg","v":3.3},{"s":"Tmem97","st":"A3-B Sg","v":3.1},{"s":"Tmem97","st":"PreLe Sc","v":2.5},{"s":"Tmem97","st":"Le/Zy Sc","v":6},{"s":"Tmem97","st":"Pa Sc","v":32},{"s":"Tmem97","st":"Di/Se Sc","v":44},{"s":"Tmem97","st":"Early St","v":38},{"s":"Tmem97","st":"Mid St","v":13},{"s":"Tmem97","st":"Late St","v":2},{"s":"Tmem97","st":"SC","v":2.5},{"s":"Tmem97","st":"PTM","v":4.5},{"s":"Tmem97","st":"LC","v":2},{"s":"Tmem97","st":"EC","v":1.5},
{"s":"Ebbm3b","st":"Ud Spg","v":0},{"s":"Ebbm3b","st":"A1-A2 Sg","v":0},{"s":"Ebbm3b","st":"A3-B Sg","v":0},{"s":"Ebbm3b","st":"PreLe Sc","v":0},{"s":"Ebbm3b","st":"Le/Zy Sc","v":0},{"s":"Ebbm3b","st":"Pa Sc","v":0},{"s":"Ebbm3b","st":"Di/Se Sc","v":0},{"s":"Ebbm3b","st":"Early St","v":0},{"s":"Ebbm3b","st":"Mid St","v":0},{"s":"Ebbm3b","st":"Late St","v":0},{"s":"Ebbm3b","st":"SC","v":0},{"s":"Ebbm3b","st":"PTM","v":0},{"s":"Ebbm3b","st":"LC","v":0},{"s":"Ebbm3b","st":"EC","v":0},
{"s":"Lrcol1","st":"Ud Spg","v":0},{"s":"Lrcol1","st":"A1-A2 Sg","v":0},{"s":"Lrcol1","st":"A3-B Sg","v":0},{"s":"Lrcol1","st":"PreLe Sc","v":0},{"s":"Lrcol1","st":"Le/Zy Sc","v":0},{"s":"Lrcol1","st":"Pa Sc","v":0},{"s":"Lrcol1","st":"Di/Se Sc","v":0},{"s":"Lrcol1","st":"Early St","v":0},{"s":"Lrcol1","st":"Mid St","v":0},{"s":"Lrcol1","st":"Late St","v":0},{"s":"Lrcol1","st":"SC","v":0},{"s":"Lrcol1","st":"PTM","v":0},{"s":"Lrcol1","st":"LC","v":0},{"s":"Lrcol1","st":"EC","v":0},
{"s":"Tmem114","st":"Ud Spg","v":0},{"s":"Tmem114","st":"A1-A2 Sg","v":0},{"s":"Tmem114","st":"A3-B Sg","v":0},{"s":"Tmem114","st":"PreLe Sc","v":0},{"s":"Tmem114","st":"Le/Zy Sc","v":0},{"s":"Tmem114","st":"Pa Sc","v":0},{"s":"Tmem114","st":"Di/Se Sc","v":0},{"s":"Tmem114","st":"Early St","v":0},{"s":"Tmem114","st":"Mid St","v":0},{"s":"Tmem114","st":"Late St","v":0},{"s":"Tmem114","st":"SC","v":6.5},{"s":"Tmem114","st":"PTM","v":0},{"s":"Tmem114","st":"LC","v":0},{"s":"Tmem114","st":"EC","v":0}
],
"hL":[
{"s":"C7orf31","st":"Ud Spg","v":0.5},{"s":"C7orf31","st":"D Sg","v":0.5},{"s":"C7orf31","st":"PreLe Sc","v":0.5},{"s":"C7orf31","st":"Le/Zy Sc","v":0.5},{"s":"C7orf31","st":"Pa Sc","v":0.8},{"s":"C7orf31","st":"Di/Se Sc","v":0.8},{"s":"C7orf31","st":"Early St","v":1},{"s":"C7orf31","st":"Mid St","v":2},{"s":"C7orf31","st":"Late St","v":4},{"s":"C7orf31","st":"SC","v":0.3},{"s":"C7orf31","st":"PTM","v":0.3},{"s":"C7orf31","st":"LC","v":0.2},{"s":"C7orf31","st":"EC","v":0.3},{"s":"C7orf31","st":"PC","v":0.5},
{"s":"ALLC","st":"Ud Spg","v":0.2},{"s":"ALLC","st":"D Sg","v":0.3},{"s":"ALLC","st":"PreLe Sc","v":0.2},{"s":"ALLC","st":"Le/Zy Sc","v":0.3},{"s":"ALLC","st":"Pa Sc","v":0.2},{"s":"ALLC","st":"Di/Se Sc","v":0.2},{"s":"ALLC","st":"Early St","v":0.8},{"s":"ALLC","st":"Mid St","v":1},{"s":"ALLC","st":"Late St","v":0.5},{"s":"ALLC","st":"SC","v":0.2},{"s":"ALLC","st":"PTM","v":0.3},{"s":"ALLC","st":"LC","v":0.2},{"s":"ALLC","st":"EC","v":0.2},{"s":"ALLC","st":"PC","v":0.2},
{"s":"CABS1","st":"Ud Spg","v":0.5},{"s":"CABS1","st":"D Sg","v":0.5},{"s":"CABS1","st":"PreLe Sc","v":0.4},{"s":"CABS1","st":"Le/Zy Sc","v":0.6},{"s":"CABS1","st":"Pa Sc","v":0.3},{"s":"CABS1","st":"Di/Se Sc","v":0.4},{"s":"CABS1","st":"Early St","v":1},{"s":"CABS1","st":"Mid St","v":7},{"s":"CABS1","st":"Late St","v":15.5},{"s":"CABS1","st":"SC","v":1},{"s":"CABS1","st":"PTM","v":0.4},{"s":"CABS1","st":"LC","v":0.5},{"s":"CABS1","st":"EC","v":0.5},{"s":"CABS1","st":"PC","v":0.6},
{"s":"FAM229B","st":"Ud Spg","v":2.5},{"s":"FAM229B","st":"D Sg","v":2.5},{"s":"FAM229B","st":"PreLe Sc","v":2.3},{"s":"FAM229B","st":"Le/Zy Sc","v":7},{"s":"FAM229B","st":"Pa Sc","v":21.5},{"s":"FAM229B","st":"Di/Se Sc","v":23},{"s":"FAM229B","st":"Early St","v":24.5},{"s":"FAM229B","st":"Mid St","v":31},{"s":"FAM229B","st":"Late St","v":31},{"s":"FAM229B","st":"SC","v":2},{"s":"FAM229B","st":"PTM","v":2.5},{"s":"FAM229B","st":"LC","v":3.5},{"s":"FAM229B","st":"EC","v":2.5},{"s":"FAM229B","st":"PC","v":3.5},
{"s":"FSCB","st":"Ud Spg","v":0.2},{"s":"FSCB","st":"D Sg","v":0.2},{"s":"FSCB","st":"PreLe Sc","v":0.2},{"s":"FSCB","st":"Le/Zy Sc","v":0.2},{"s":"FSCB","st":"Pa Sc","v":0.2},{"s":"FSCB","st":"Di/Se Sc","v":0.2},{"s":"FSCB","st":"Early St","v":1},{"s":"FSCB","st":"Mid St","v":3},{"s":"FSCB","st":"Late St","v":2},{"s":"FSCB","st":"SC","v":0.2},{"s":"FSCB","st":"PTM","v":0.2},{"s":"FSCB","st":"LC","v":0.2},{"s":"FSCB","st":"EC","v":0.2},{"s":"FSCB","st":"PC","v":0.3},
{"s":"HDGFL1","st":"Ud Spg","v":1},{"s":"HDGFL1","st":"D Sg","v":1},{"s":"HDGFL1","st":"PreLe Sc","v":1.2},{"s":"HDGFL1","st":"Le/Zy Sc","v":2},{"s":"HDGFL1","st":"Pa Sc","v":7.5},{"s":"HDGFL1","st":"Di/Se Sc","v":10.5},{"s":"HDGFL1","st":"Early St","v":8.5},{"s":"HDGFL1","st":"Mid St","v":5},{"s":"HDGFL1","st":"Late St","v":2},{"s":"HDGFL1","st":"SC","v":0.4},{"s":"HDGFL1","st":"PTM","v":0.3},{"s":"HDGFL1","st":"LC","v":0.3},{"s":"HDGFL1","st":"EC","v":0.3},{"s":"HDGFL1","st":"PC","v":0.4},
{"s":"IQCA1","st":"Ud Spg","v":0.5},{"s":"IQCA1","st":"D Sg","v":1},{"s":"IQCA1","st":"PreLe Sc","v":0.8},{"s":"IQCA1","st":"Le/Zy Sc","v":0.5},{"s":"IQCA1","st":"Pa Sc","v":0.3},{"s":"IQCA1","st":"Di/Se Sc","v":0.6},{"s":"IQCA1","st":"Early St","v":0.8},{"s":"IQCA1","st":"Mid St","v":0.3},{"s":"IQCA1","st":"Late St","v":0.3},{"s":"IQCA1","st":"SC","v":0.2},{"s":"IQCA1","st":"PTM","v":0.2},{"s":"IQCA1","st":"LC","v":0.2},{"s":"IQCA1","st":"EC","v":0.2},{"s":"IQCA1","st":"PC","v":0.2},
{"s":"LELP1","st":"Ud Spg","v":1.8},{"s":"LELP1","st":"D Sg","v":2.5},{"s":"LELP1","st":"PreLe Sc","v":2},{"s":"LELP1","st":"Le/Zy Sc","v":3},{"s":"LELP1","st":"Pa Sc","v":1.5},{"s":"LELP1","st":"Di/Se Sc","v":1.5},{"s":"LELP1","st":"Early St","v":3},{"s":"LELP1","st":"Mid St","v":15},{"s":"LELP1","st":"Late St","v":54},{"s":"LELP1","st":"SC","v":4},{"s":"LELP1","st":"PTM","v":1.8},{"s":"LELP1","st":"LC","v":1.8},{"s":"LELP1","st":"EC","v":4.5},{"s":"LELP1","st":"PC","v":2.5},
{"s":"SPATA24","st":"Ud Spg","v":0.5},{"s":"SPATA24","st":"D Sg","v":0.5},{"s":"SPATA24","st":"PreLe Sc","v":0.5},{"s":"SPATA24","st":"Le/Zy Sc","v":1},{"s":"SPATA24","st":"Pa Sc","v":2},{"s":"SPATA24","st":"Di/Se Sc","v":2},{"s":"SPATA24","st":"Early St","v":3},{"s":"SPATA24","st":"Mid St","v":4.5},{"s":"SPATA24","st":"Late St","v":10},{"s":"SPATA24","st":"SC","v":1},{"s":"SPATA24","st":"PTM","v":0.3},{"s":"SPATA24","st":"LC","v":0.3},{"s":"SPATA24","st":"EC","v":0.3},{"s":"SPATA24","st":"PC","v":0.5},
{"s":"TMEM97","st":"Ud Spg","v":1},{"s":"TMEM97","st":"D Sg","v":1.5},{"s":"TMEM97","st":"PreLe Sc","v":2.2},{"s":"TMEM97","st":"Le/Zy Sc","v":1.5},{"s":"TMEM97","st":"Pa Sc","v":1.2},{"s":"TMEM97","st":"Di/Se Sc","v":0.8},{"s":"TMEM97","st":"Early St","v":0.5},{"s":"TMEM97","st":"Mid St","v":0.5},{"s":"TMEM97","st":"Late St","v":0.5},{"s":"TMEM97","st":"SC","v":2.2},{"s":"TMEM97","st":"PTM","v":0.5},{"s":"TMEM97","st":"LC","v":1.8},{"s":"TMEM97","st":"EC","v":0.3},{"s":"TMEM97","st":"PC","v":0.3},
{"s":"EDDM3B","st":"Ud Spg","v":0},{"s":"EDDM3B","st":"D Sg","v":0},{"s":"EDDM3B","st":"PreLe Sc","v":0},{"s":"EDDM3B","st":"Le/Zy Sc","v":0},{"s":"EDDM3B","st":"Pa Sc","v":0},{"s":"EDDM3B","st":"Di/Se Sc","v":0},{"s":"EDDM3B","st":"Early St","v":0},{"s":"EDDM3B","st":"Mid St","v":0},{"s":"EDDM3B","st":"Late St","v":0},{"s":"EDDM3B","st":"SC","v":0},{"s":"EDDM3B","st":"PTM","v":0},{"s":"EDDM3B","st":"LC","v":0},{"s":"EDDM3B","st":"EC","v":0},{"s":"EDDM3B","st":"PC","v":0},
{"s":"LRCOL1","st":"Ud Spg","v":0},{"s":"LRCOL1","st":"D Sg","v":0},{"s":"LRCOL1","st":"PreLe Sc","v":0},{"s":"LRCOL1","st":"Le/Zy Sc","v":0},{"s":"LRCOL1","st":"Pa Sc","v":0},{"s":"LRCOL1","st":"Di/Se Sc","v":0},{"s":"LRCOL1","st":"Early St","v":0},{"s":"LRCOL1","st":"Mid St","v":0},{"s":"LRCOL1","st":"Late St","v":0},{"s":"LRCOL1","st":"SC","v":0},{"s":"LRCOL1","st":"PTM","v":0},{"s":"LRCOL1","st":"LC","v":0},{"s":"LRCOL1","st":"EC","v":0},{"s":"LRCOL1","st":"PC","v":0},
{"s":"TMEM114","st":"Ud Spg","v":0},{"s":"TMEM114","st":"D Sg","v":0},{"s":"TMEM114","st":"PreLe Sc","v":0},{"s":"TMEM114","st":"Le/Zy Sc","v":0},{"s":"TMEM114","st":"Pa Sc","v":0},{"s":"TMEM114","st":"Di/Se Sc","v":0},{"s":"TMEM114","st":"Early St","v":0},{"s":"TMEM114","st":"Mid St","v":0},{"s":"TMEM114","st":"Late St","v":0},{"s":"TMEM114","st":"SC","v":0},{"s":"TMEM114","st":"PTM","v":0},{"s":"TMEM114","st":"LC","v":0},{"s":"TMEM114","st":"EC","v":0},{"s":"TMEM114","st":"PC","v":0}
]
},
"bounds":"flush",
"spacing":247,
"resolve":{"scale":{"color":"independent"},"legend":{"color":"independent"}},
"vconcat":[
{
"title":{"text":"A","anchor":"start","font":"Lato","fontSize":16,"fontWeight":"bold","offset":-3},
"bounds":"flush","spacing":53,
"resolve":{"scale":{"color":"independent"},"legend":{"color":"independent"}},
"hconcat":[
{
"width":200,"height":120,
"view":{"stroke":"#8a8a8a","strokeWidth":1},
"title":{"text":"Mouse","font":"Lato","fontSize":17,"fontWeight":"bold","offset":15,"frame":"group","anchor":"middle","dx":10},
"data":{"name":"mA"},
"mark":{"type":"rect","width":{"band":0.72},"height":{"band":0.34}},
"encoding":{
"x":{"field":"c","type":"nominal","title":null,"scale":{"domain":["Testis","Spg (ID4+, high)","Spg (ID4+, low)","Epididymis","Adipose","Adrenal Gland","Bone Marrow","Cerebral Cortex","Colon","Duodenum","Heart","Kidney","Liver","Lung","Pancreas","Skeletal Muscle","Small Intestine","Stomach"],"paddingInner":0,"paddingOuter":0},
"axis":{"orient":"top","labelAngle":-45,"labelAlign":"left","labelBaseline":"middle","labelFontSize":6.3,"labelPadding":3,"ticks":false,"domain":false,"labelOverlap":false,"labelColor":"#111"}},
"y":{"field":"r","type":"nominal","title":null,"scale":{"domain":["4921507P07Rik","Allc","Cabs1","Fam229b","Fscb","Hdgfl1","Iqca","Lelp1","Spata24","Tmem97","Eddm3b","Lrcol1","Tmem114","Ube2r2"],"paddingInner":0,"paddingOuter":0},
"axis":{"labelFontSize":7,"labelFontStyle":"italic","labelFontWeight":"bold","ticks":false,"domain":false,"grid":true,"bandPosition":0,"labelOffset":4.3,"gridColor":"#8a8a8a","gridWidth":1.2,"labelPadding":3,"labelColor":"#111"}},
"color":{"field":"v","type":"quantitative","scale":{"domain":[0,1],"range":["#ffffff","#000000"]},"legend":null}
}
},
{
"width":335,"height":120,
"view":{"stroke":"#8a8a8a","strokeWidth":1},
"title":{"text":"Human","font":"Lato","fontSize":17,"fontWeight":"bold","offset":11,"frame":"group","anchor":"middle","dx":-14},
"data":{"name":"hA"},
"mark":{"type":"rect","width":{"band":0.72},"height":{"band":0.34}},
"encoding":{
"x":{"field":"c","type":"nominal","title":null,"scale":{"domain":["Testis","Spg (SSEA4+)","Spg (KIT+)","Spg (SSEA4+KIT-)","Spg (SSEA4-KIT+)","Epididymis","Adipose","Adrenal Gland","Appendix","Bladder","Bone Marrow","Cerebral Cortex","Colon","Duodenum","Esophagus","Gallbladder","Heart","Kidney","Liver","Lung","Lymph Node","Pancreas","Prostate","Rectum","Salivary Gland","Skeletal Muscle","Skin","Small Intestine","Spleen","Stomach","Thyroid Gland","Tonsil"],"paddingInner":0,"paddingOuter":0},
"axis":{"orient":"top","labelAngle":-45,"labelAlign":"left","labelBaseline":"middle","labelFontSize":6,"labelPadding":3,"ticks":false,"domain":false,"labelOverlap":false,"labelColor":"#111"}},
"y":{"field":"r","type":"nominal","title":null,"scale":{"domain":["C7orf31","ALLC","CABS1","FAM229B","FSCB","HDGFL1","IQCA1","LELP1","SPATA24","TMEM97","EDDM3B","LRCOL1","TMEM114","UBE2R2"],"paddingInner":0,"paddingOuter":0},
"axis":{"labelFontSize":7,"labelFontStyle":"italic","labelFontWeight":"bold","ticks":false,"domain":false,"grid":true,"bandPosition":0,"labelOffset":4.3,"gridColor":"#8a8a8a","gridWidth":1.2,"labelPadding":3,"labelColor":"#111"}},
"color":{"field":"v","type":"quantitative","scale":{"domain":[0,1],"range":["#ffffff","#000000"]},"legend":null}
}
}
]
},
{
"bounds":"flush","spacing":202,
"resolve":{"scale":{"color":"independent"},"legend":{"color":"independent"}},
"vconcat":[
{
"title":{"text":"B","anchor":"start","font":"Lato","fontSize":16,"fontWeight":"bold","offset":-16},
"bounds":"flush","spacing":46,
"resolve":{"scale":{"color":"independent"},"legend":{"color":"independent"}},
"hconcat":[
{
"width":267,"height":125,
"view":{"stroke":"#8a8a8a","strokeWidth":1},
"title":{"text":"Mouse","font":"Lato","fontSize":16,"fontWeight":"bold","offset":6,"frame":"group","anchor":"middle","dx":-20},
"data":{"name":"mB"},
"mark":{"type":"rect","width":{"band":0.7},"height":{"band":0.38}},
"encoding":{
"x":{"field":"c","type":"nominal","title":null,"scale":{"domain":["Ud Sg","A1-A2 Sg","A3-B Sg","Prele Sc","Le/Zy Sc","Pa Sc","Di/Se Sc","Early St","Mid St","Late St","SC","PTM","LC","EC"],"paddingInner":0,"paddingOuter":0},
"axis":{"orient":"top","labelAngle":-45,"labelAlign":"left","labelBaseline":"middle","labelFontSize":7.5,"labelPadding":3,"ticks":false,"domain":false,"labelOverlap":false,"labelColor":"#111"}},
"y":{"field":"r","type":"nominal","title":null,"scale":{"domain":["4921507P07Rik","Allc","Cabs1","Fam229b","Fscb","Hdgfl1","Iqca","Lelp1","Spata24","Tmem97","Eddm3b","Lrcol1","Tmem114","Actb"],"paddingInner":0,"paddingOuter":0},
"axis":{"labelFontSize":7.5,"labelFontStyle":"italic","labelFontWeight":"bold","ticks":false,"domain":false,"grid":true,"bandPosition":0,"labelOffset":4.5,"gridColor":"#8a8a8a","gridWidth":1.2,"labelPadding":3,"labelColor":"#111"}},
"color":{"field":"v","type":"quantitative","scale":{"domain":[0,1],"range":["#ffffff","#000000"]},"legend":null}
}
},
{
"width":275,"height":125,
"view":{"stroke":"#8a8a8a","strokeWidth":1},
"title":{"text":"Human","font":"Lato","fontSize":16,"fontWeight":"bold","offset":6,"frame":"group","anchor":"middle","dx":-40},
"data":{"name":"hB"},
"mark":{"type":"rect","width":{"band":0.7},"height":{"band":0.38}},
"encoding":{
"x":{"field":"c","type":"nominal","title":null,"scale":{"domain":["Ud Sg","D Sg","Prele Sc","Le/Zy Sc","Pa Sc","Di/Se Sc","Early St","Mid St","Late St","SC","PTM","LC","EC","PC"],"paddingInner":0,"paddingOuter":0},
"axis":{"orient":"top","labelAngle":-45,"labelAlign":"left","labelBaseline":"middle","labelFontSize":7.5,"labelPadding":3,"ticks":false,"domain":false,"labelOverlap":false,"labelColor":"#111"}},
"y":{"field":"r","type":"nominal","title":null,"scale":{"domain":["C7orf31","ALLC","CABS1","FAM229B","FSCB","HDGFL1","IQCA1","LELP1","SPATA24","TMEM97","EDDM3B","LRCOL1","TMEM114","GAPDH"],"paddingInner":0,"paddingOuter":0},
"axis":{"labelFontSize":7.5,"labelFontStyle":"italic","labelFontWeight":"bold","ticks":false,"domain":false,"grid":true,"bandPosition":0,"labelOffset":4.5,"gridColor":"#8a8a8a","gridWidth":1.2,"labelPadding":3,"labelColor":"#111"}},
"color":{"field":"v","type":"quantitative","scale":{"domain":[0,1],"range":["#ffffff","#000000"]},"legend":null}
}
}
]
},
{
"bounds":"flush","spacing":73,
"resolve":{"scale":{"color":"independent"},"legend":{"color":"independent"}},
"hconcat":[
{
"width":252,"height":150,
"data":{"name":"mL"},
"mark":{"type":"line","strokeWidth":2.6},
"encoding":{
"x":{"field":"st","type":"ordinal","title":null,"scale":{"type":"point","domain":["Ud Spg","A1-A2 Sg","A3-B Sg","PreLe Sc","Le/Zy Sc","Pa Sc","Di/Se Sc","Early St","Mid St","Late St","SC","PTM","LC","EC"],"padding":0.45},
"axis":{"labelAngle":-45,"labelFont":"Lato","labelFontWeight":"bold","labelFontSize":8.5,"labelColor":"#404040","ticks":false,"domain":false,"labelPadding":4}},
"y":{"field":"v","type":"quantitative","scale":{"domain":[0,60],"nice":false},
"axis":{"values":[0,10,20,30,40,50,60],"title":["MEDIAN-NORMALIZED LEVEL","OF EXPRESSION"],"titleFont":"Lato","titleFontSize":8,"titleFontWeight":"bold","titleColor":"#404040","labelFont":"Lato","labelFontWeight":"bold","labelFontSize":7.5,"labelColor":"#404040","ticks":false,"domain":false,"gridColor":"#e3e3e3","labelPadding":8,"titlePadding":8}},
"color":{"field":"s","type":"nominal","scale":{"domain":["4921507P07Rik","Allc","Cabs1","Fam229b","Fscb","Hdgfl1","Iqca","Lelp1","Spata24","Tmem97","Ebbm3b","Lrcol1","Tmem114"],"range":["#00B0F0","#ED7D31","#FFC000","#A5A5A5","#8FAADC","#70AD47","#F4B183","#C00000","#2F5597","#7F6000","#FFFF00","#375623","#7030A0"]},
"legend":{"orient":"none","direction":"horizontal","legendX":-26,"legendY":-63,"columns":4,"title":null,"symbolType":"stroke","symbolStrokeWidth":3,"symbolSize":200,"labelFont":"Lato","labelFontSize":8.5,"labelColor":"#404040","gridAlign":"all","columnPadding":-12,"rowPadding":0.5,"labelOffset":2}}
}
},
{
"width":255,"height":150,
"data":{"name":"hL"},
"mark":{"type":"line","strokeWidth":2.6},
"encoding":{
"x":{"field":"st","type":"ordinal","title":null,"scale":{"type":"point","domain":["Ud Spg","D Sg","PreLe Sc","Le/Zy Sc","Pa Sc","Di/Se Sc","Early St","Mid St","Late St","SC","PTM","LC","EC","PC"],"padding":0.55},
"axis":{"labelAngle":-45,"labelFont":"Lato","labelFontWeight":"bold","labelFontSize":8.5,"labelColor":"#404040","ticks":false,"domain":false,"labelPadding":4}},
"y":{"field":"v","type":"quantitative","scale":{"domain":[0,60],"nice":false},
"axis":{"values":[0,10,20,30,40,50,60],"title":["MEDIAN-NORMALIZED LEVEL","OF EXPRESSION"],"titleFont":"Lato","titleFontSize":8,"titleFontWeight":"bold","titleColor":"#404040","labelFont":"Lato","labelFontWeight":"bold","labelFontSize":7.5,"labelColor":"#404040","ticks":false,"domain":false,"gridColor":"#e3e3e3","labelPadding":8,"titlePadding":8}},
"color":{"field":"s","type":"nominal","scale":{"domain":["C7orf31","ALLC","CABS1","FAM229B","FSCB","HDGFL1","IQCA1","LELP1","SPATA24","TMEM97","EDDM3B","LRCOL1","TMEM114"],"range":["#00B0F0","#ED7D31","#FFC000","#A5A5A5","#8FAADC","#70AD47","#F4B183","#C00000","#2F5597","#7F6000","#FFFF00","#375623","#7030A0"]},
"legend":{"orient":"none","direction":"horizontal","legendX":-20,"legendY":-63,"columns":4,"title":null,"symbolType":"stroke","symbolStrokeWidth":3,"symbolSize":200,"labelFont":"Lato","labelFontSize":8.5,"labelColor":"#404040","gridAlign":"all","columnPadding":-12,"rowPadding":0.5,"labelOffset":2}}
}
}
]
}
]
}
]
}
